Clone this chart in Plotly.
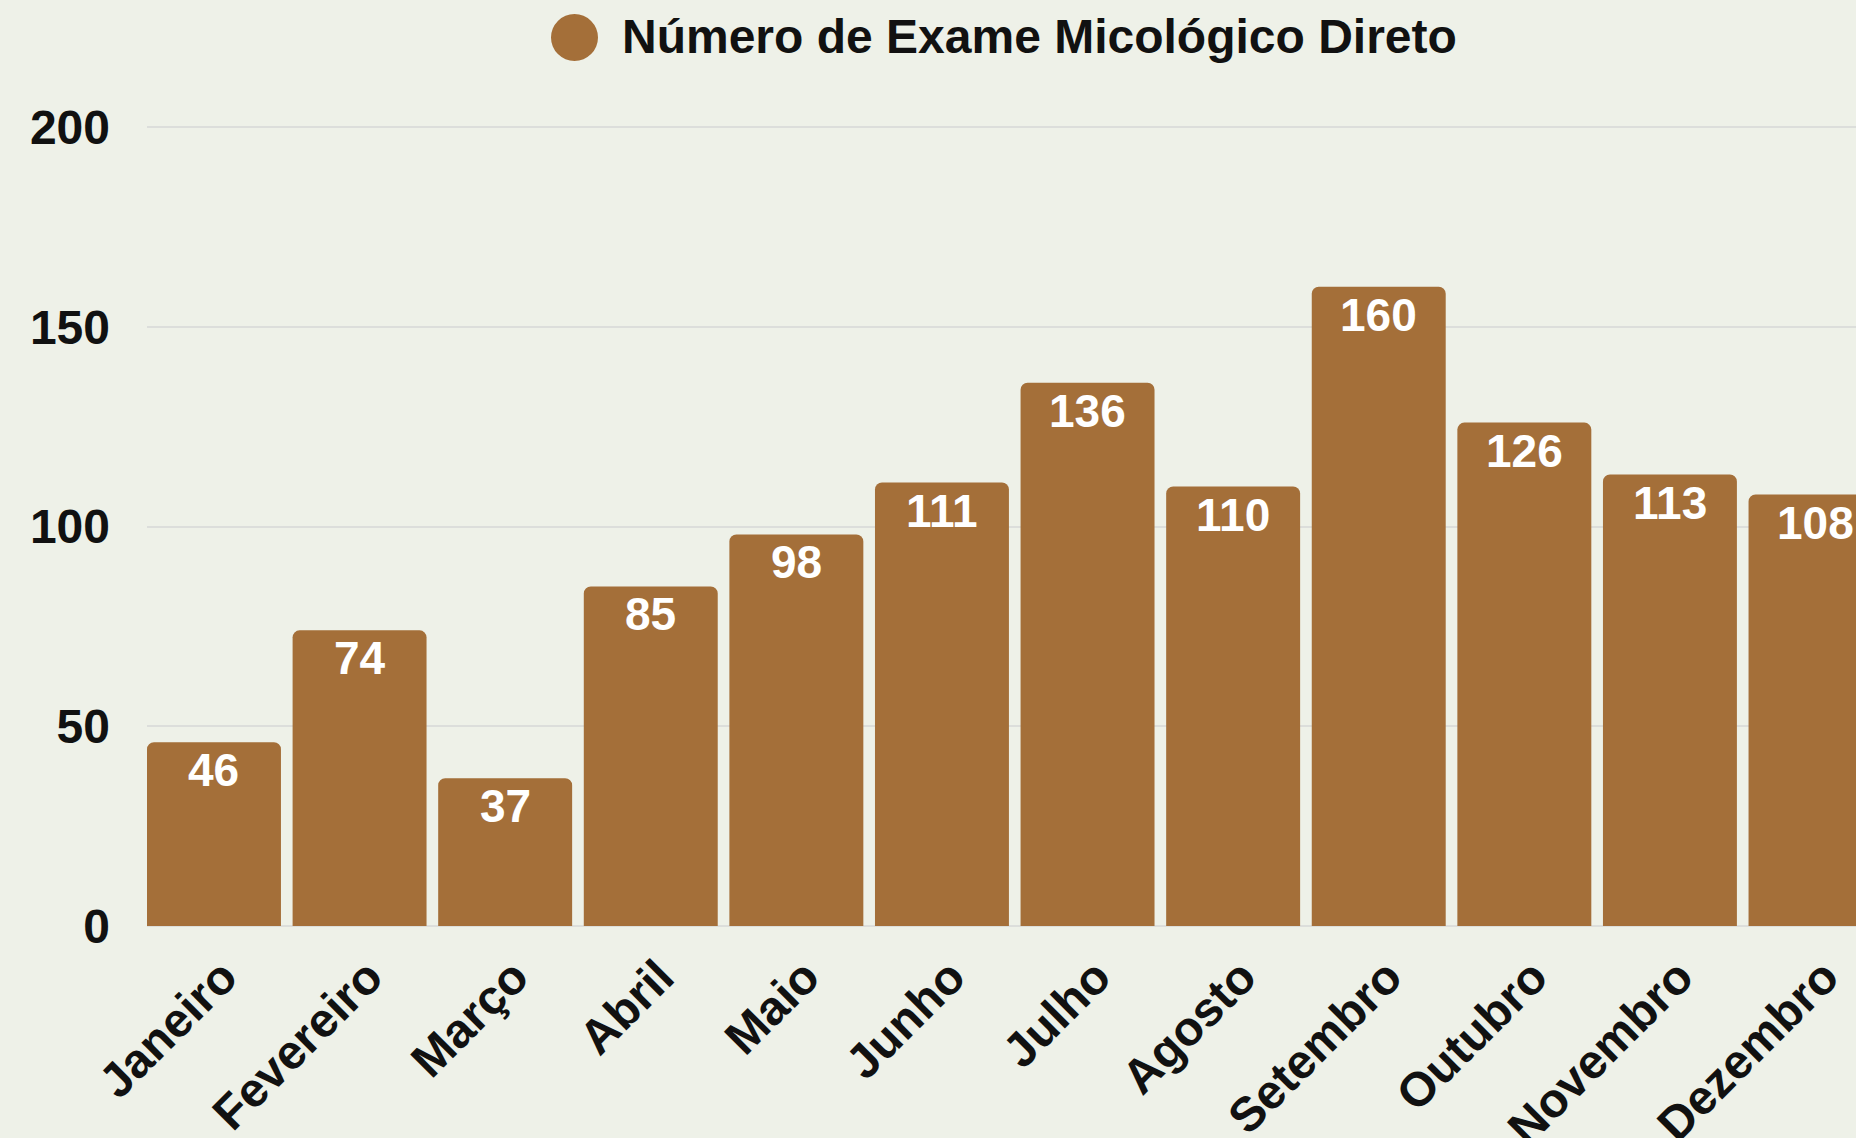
import plotly.graph_objects as go

# Monthly counts of direct mycological exams
MESES = ["Janeiro", "Fevereiro", "Março", "Abril", "Maio", "Junho",
         "Julho", "Agosto", "Setembro", "Outubro", "Novembro", "Dezembro"]
EXAMES = [46, 74, 37, 85, 98, 111, 136, 110, 160, 126, 113, 108]
Y_TICKS = [0, 50, 100, 150, 200]
SERIE = "Número de Exame Micológico Direto"

BAR_COLOR = "#a46f39"
BG_COLOR = "#eef1e8"
FONT = "Liberation Sans"

# plot area in page pixels
LEFT, TOP, BOTTOM = 147, 119, 926
PLOT_W = 1856 - LEFT
PLOT_H = BOTTOM - TOP

fig = go.Figure()

fig.add_trace(go.Bar(x=MESES,
                     y=EXAMES,
                     name=SERIE,
                     marker=dict(color=BAR_COLOR, cornerradius=7, line=dict(width=0)),
                     hoverinfo="x+y",
                     showlegend=False))

# value labels just under the top of each bar
for mes, valor in zip(MESES, EXAMES):
    fig.add_annotation(x=mes, y=valor, text=str(valor),
                       xanchor="center", yanchor="top", yshift=0,
                       showarrow=False,
                       font=dict(family=FONT, size=46, color="#ffffff", weight="bold"))

# legend drawn by hand: plotly caps legend symbols at 16px
fig.add_shape(type="circle", xref="paper", yref="paper",
              x0=(551 - LEFT) / PLOT_W, x1=(598 - LEFT) / PLOT_W,
              y0=(BOTTOM - 14) / PLOT_H, y1=(BOTTOM - 61) / PLOT_H,
              fillcolor=BAR_COLOR, line=dict(width=0))
fig.add_annotation(text=SERIE, xref="paper", yref="paper",
                   x=(620 - LEFT) / PLOT_W, y=(BOTTOM - 37) / PLOT_H,
                   xanchor="left", yanchor="middle", showarrow=False,
                   font=dict(family=FONT, size=48, color="#111111", weight="bold"))

fig.update_layout(width=1856, height=1138,
                  margin=dict(l=LEFT, r=0, t=TOP, b=1138 - BOTTOM, pad=0),
                  paper_bgcolor=BG_COLOR,
                  plot_bgcolor=BG_COLOR,
                  bargap=0.08,
                  showlegend=False,
                  font=dict(family=FONT, size=48, color="#111111", weight="bold"))

fig.update_xaxes(range=[-0.46, 11.278],
                 automargin=False,
                 tickangle=-45,
                 showgrid=False,
                 showline=False,
                 ticks="",
                 ticklabelstandoff=12,
                 ticklabelshift=9,
                 tickfont=dict(family=FONT, size=48, color="#111111", weight="bold"))

fig.update_yaxes(range=[0, 202],
                 automargin=False,
                 tickvals=Y_TICKS,
                 showgrid=True,
                 gridcolor="#dcdedb",
                 gridwidth=2,
                 zeroline=True,
                 zerolinecolor="#dcdedb",
                 zerolinewidth=2,
                 ticks="",
                 ticklabelstandoff=36,
                 tickfont=dict(family=FONT, size=48, color="#111111", weight="bold"))

fig.write_html("out.html",
               config={"displayModeBar": False},
               post_script="document.body.style.margin='0';"
                           "document.body.style.overflow='hidden';")
